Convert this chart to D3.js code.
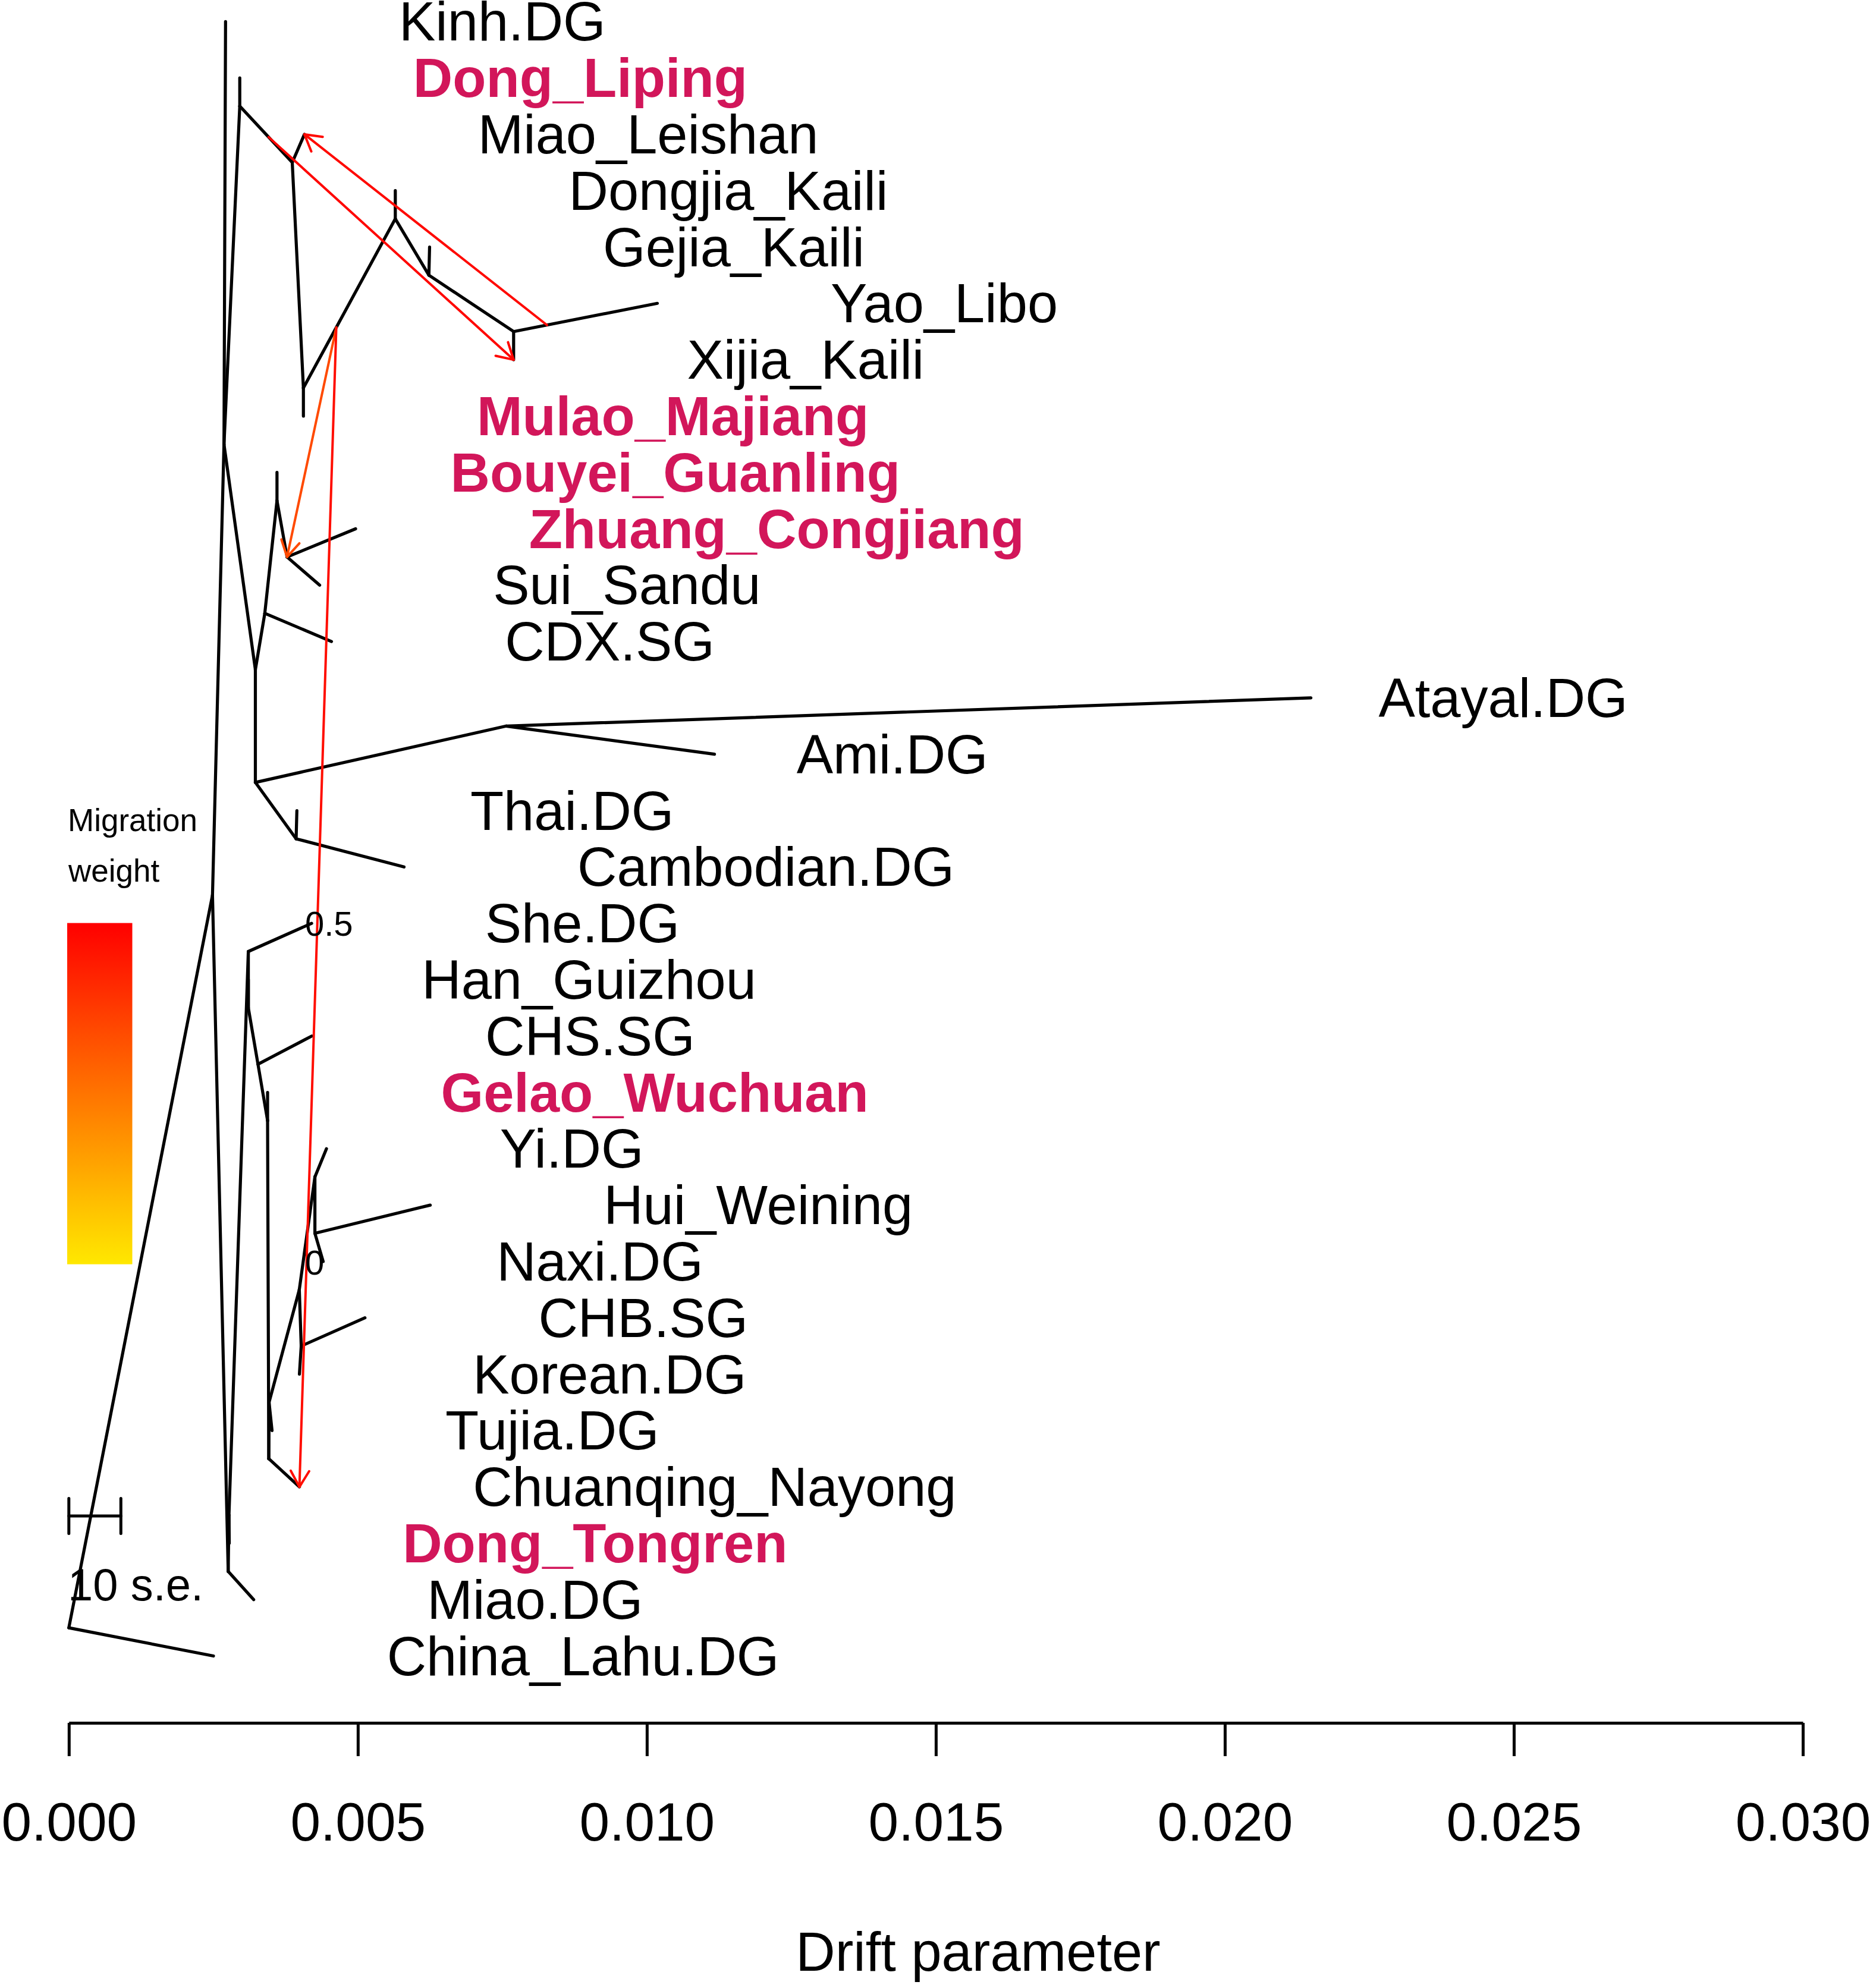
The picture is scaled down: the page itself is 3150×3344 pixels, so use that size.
<!DOCTYPE html>
<html>
<head>
<meta charset="utf-8">
<script src="https://cdn.jsdelivr.net/npm/d3@7"></script>
<style>
  html, body { margin: 0; padding: 0; background: #ffffff; }
  svg { display: block; }
</style>
</head>
<body>
<svg id="chart" width="3150" height="3344"></svg>
<script>
// ---------------- DATA ----------------
// Tips, top to bottom (vertical order index = position in this list)
const tipNames = [
  "Kinh.DG", "Dong_Liping", "Miao_Leishan", "Dongjia_Kaili", "Gejia_Kaili",
  "Yao_Libo", "Xijia_Kaili", "Mulao_Majiang", "Bouyei_Guanling", "Zhuang_Congjiang",
  "Sui_Sandu", "CDX.SG", "Atayal.DG", "Ami.DG", "Thai.DG",
  "Cambodian.DG", "She.DG", "Han_Guizhou", "CHS.SG", "Gelao_Wuchuan",
  "Yi.DG", "Hui_Weining", "Naxi.DG", "CHB.SG", "Korean.DG",
  "Tujia.DG", "Chuanqing_Nayong", "Dong_Tongren", "Miao.DG", "China_Lahu.DG"
];
const highlightedTips = ["Dong_Liping", "Mulao_Majiang", "Bouyei_Guanling",
  "Zhuang_Congjiang", "Gelao_Wuchuan", "Dong_Tongren"];

// Tip drift (x 1e-3), same order as tipNames
const tipDrift = [
  2.711, 2.957, 4.076, 5.648, 6.241,
  10.181, 7.695, 4.058, 3.601, 4.961,
  4.339, 4.544, 21.489, 11.170, 3.945,
  5.799, 4.200, 3.105, 4.203, 3.438,
  4.457, 6.252, 4.400, 5.123, 3.989,
  3.515, 3.989, 2.775, 3.198, 2.502
];

// Internal nodes: id, drift (x 1e-3), vertical position (in tip-index units)
const innerIds   = ["root", "A", "B", "N1", "N2", "N3", "N4", "N5", "N6",
                    "D", "L", "J", "K", "F", "G", "H",
                    "M", "N26", "S", "T", "U", "V", "W", "Z", "X", "Y20", "Y21", "Y23"];
const innerDrift = [0.000, 2.485, 2.684, 2.957, 3.865, 4.058, 5.648, 6.229, 7.695,
                    3.227, 3.390, 3.601, 3.775, 3.227, 7.567, 3.932,
                    2.757, 2.770, 3.105, 3.105, 3.272, 3.438, 3.459, 3.464, 3.987, 4.257, 4.257, 4.020];
const innerY     = [28.5, 15.5, 7.5, 1.5, 2.5, 6.5, 3.5, 4.5, 5.5,
                    11.5, 10.5, 8.5, 9.5, 13.5, 12.5, 14.5,
                    27.5, 26.5, 16.5, 17.5, 18.5, 19.5, 25.5, 24.5, 22.5, 20.5, 21.5, 23.5];

// Tree edges: [parent, child]
const treeEdges = [
  ["root", "China_Lahu.DG"], ["root", "A"], ["A", "B"], ["A", "M"],
  ["B", "Kinh.DG"], ["B", "N1"], ["B", "D"],
  ["N1", "Dong_Liping"], ["N1", "N2"], ["N2", "Miao_Leishan"], ["N2", "N3"],
  ["N3", "Mulao_Majiang"], ["N3", "N4"], ["N4", "Dongjia_Kaili"], ["N4", "N5"],
  ["N5", "Gejia_Kaili"], ["N5", "N6"], ["N6", "Yao_Libo"], ["N6", "Xijia_Kaili"],
  ["D", "L"], ["D", "F"], ["L", "J"], ["L", "CDX.SG"], ["J", "Bouyei_Guanling"], ["J", "K"],
  ["K", "Zhuang_Congjiang"], ["K", "Sui_Sandu"],
  ["F", "G"], ["F", "H"], ["G", "Atayal.DG"], ["G", "Ami.DG"], ["H", "Thai.DG"], ["H", "Cambodian.DG"],
  ["M", "N26"], ["M", "Miao.DG"], ["N26", "Dong_Tongren"], ["N26", "S"],
  ["S", "She.DG"], ["S", "T"], ["T", "Han_Guizhou"], ["T", "U"],
  ["U", "CHS.SG"], ["U", "V"], ["V", "Gelao_Wuchuan"], ["V", "W"],
  ["W", "Z"], ["W", "Chuanqing_Nayong"], ["Z", "X"], ["Z", "Tujia.DG"],
  ["X", "Y20"], ["X", "Y23"], ["Y20", "Yi.DG"], ["Y20", "Y21"],
  ["Y21", "Hui_Weining"], ["Y21", "Naxi.DG"], ["Y23", "CHB.SG"], ["Y23", "Korean.DG"]
];

// Migration edges: source lies on a tree edge at a fraction along it
const migSourceEdge = [["N6", "Yao_Libo"], ["N1", "N2"], ["N3", "N4"], ["N3", "N4"]];
const migSourceFrac = [0.232, 0.55, 0.358, 0.358];
const migTarget     = ["Miao_Leishan", "Xijia_Kaili", "K", "Chuanqing_Nayong"];
const migWeight     = [0.48, 0.49, 0.34, 0.47];

// Axis ticks
const xTicks = [0, 0.005, 0.010, 0.015, 0.020, 0.025, 0.030];
const legendTicks = [0, 0.5];
const seBarLength = 0.0009;   // 10 s.e. in drift units
const labelOffset = 0.003;    // label shift right of tip (drift units)
const labelOffsetOverride = { "Atayal.DG": 0.00117, "Ami.DG": 0.00142 };

// ---------------- LAYOUT ----------------
const FONT = "'Liberation Sans', Arial, Helvetica, sans-serif";
const svg = d3.select("#chart");
svg.append("rect").attr("width", 3150).attr("height", 3344).attr("fill", "#ffffff");

const x = d3.scaleLinear().domain([0, 0.03]).range([115.8, 3032]);
const y = d3.scaleLinear().domain([0, 29]).range([36.3, 2785.5]);
const migColor = d3.scaleLinear().domain([0, 0.5]).range(["#FFE800", "#FF0000"]);

// Build node table
const nodes = new Map();
tipNames.forEach((n, i) => nodes.set(n, { id: n, drift: tipDrift[i] / 1000, y: i, tip: true }));
innerIds.forEach((n, i) => nodes.set(n, { id: n, drift: innerDrift[i] / 1000, y: innerY[i], tip: false }));

// Tree edges
const gTree = svg.append("g")
  .attr("stroke", "#000").attr("stroke-width", 5.2)
  .attr("stroke-linecap", "round").attr("stroke-linejoin", "round").attr("fill", "none");
gTree.selectAll("line").data(treeEdges).join("line")
  .attr("x1", d => x(nodes.get(d[0]).drift))
  .attr("y1", d => y(nodes.get(d[0]).y))
  .attr("x2", d => x(nodes.get(d[1]).drift))
  .attr("y2", d => y(nodes.get(d[1]).y));

// Migration arrows
const migs = migTarget.map((t, i) => {
  const p = nodes.get(migSourceEdge[i][0]), c = nodes.get(migSourceEdge[i][1]);
  const f = migSourceFrac[i];
  const sd = p.drift + (c.drift - p.drift) * f;
  const sy = p.y + (c.y - p.y) * f;
  const tn = nodes.get(t);
  return { x1: x(sd), y1: y(sy), x2: x(tn.drift), y2: y(tn.y), w: migWeight[i] };
});
const headLen = 31, headAng = Math.PI / 6;
const gMig = svg.append("g").attr("fill", "none")
  .attr("stroke-width", 4.0).attr("stroke-linecap", "round").attr("stroke-linejoin", "round");
migs.forEach(m => {
  const col = migColor(m.w);
  const a = Math.atan2(m.y2 - m.y1, m.x2 - m.x1);
  const p1 = [m.x2 - headLen * Math.cos(a - headAng), m.y2 - headLen * Math.sin(a - headAng)];
  const p2 = [m.x2 - headLen * Math.cos(a + headAng), m.y2 - headLen * Math.sin(a + headAng)];
  gMig.append("line").attr("x1", m.x1).attr("y1", m.y1).attr("x2", m.x2).attr("y2", m.y2).attr("stroke", col);
  gMig.append("path").attr("d", `M${p1[0]},${p1[1]}L${m.x2},${m.y2}L${p2[0]},${p2[1]}`).attr("stroke", col);
});

// Tip labels
svg.append("g").selectAll("text").data(tipNames).join("text")
  .attr("x", (d, i) => x(tipDrift[i] / 1000 + (labelOffsetOverride[d] !== undefined ? labelOffsetOverride[d] : labelOffset)))
  .attr("y", (d, i) => y(i) + 32)
  .attr("font-family", FONT)
  .attr("font-size", 92)
  .attr("font-weight", d => highlightedTips.includes(d) ? "bold" : "normal")
  .attr("fill", d => highlightedTips.includes(d) ? "#D2165A" : "#000")
  .text(d => d);

// Bottom axis
const axis = d3.axisBottom(x).tickValues(xTicks).tickFormat(d3.format(".3f"))
  .tickSize(56).tickSizeOuter(0).tickPadding(77);
const gAxis = svg.append("g").attr("transform", "translate(0,2898)").call(axis);
gAxis.select(".domain").attr("stroke", "#000").attr("stroke-width", 5);
gAxis.selectAll(".tick line").attr("stroke", "#000").attr("stroke-width", 5);
gAxis.selectAll(".tick text").attr("font-family", FONT).attr("font-size", 91).attr("fill", "#000");
gAxis.attr("font-family", FONT).attr("font-size", 91);

svg.append("text").attr("x", 1645).attr("y", 3315).attr("text-anchor", "middle")
  .attr("font-family", FONT).attr("font-size", 92).attr("fill", "#000").text("Drift parameter");

// Migration weight legend
const defs = svg.append("defs");
const grad = defs.append("linearGradient").attr("id", "migGrad")
  .attr("x1", 0).attr("y1", 1).attr("x2", 0).attr("y2", 0);
d3.range(0, 1.0001, 0.1).forEach(t => {
  grad.append("stop").attr("offset", t).attr("stop-color", migColor(t * 0.5));
});
const legTop = 1552.6, legBot = 2126.6;
const ly = d3.scaleLinear().domain([0, 0.5]).range([legBot, legTop]);
svg.append("rect").attr("x", 113).attr("y", legTop).attr("width", 109.5).attr("height", legBot - legTop)
  .attr("fill", "url(#migGrad)");
svg.append("text").attr("x", 114).attr("y", 1397.5).attr("font-family", FONT).attr("font-size", 53)
  .attr("fill", "#000").text("Migration");
svg.append("text").attr("x", 115).attr("y", 1482.5).attr("font-family", FONT).attr("font-size", 53)
  .attr("fill", "#000").text("weight");
svg.append("g").selectAll("text").data(legendTicks).join("text")
  .attr("x", 513).attr("y", d => ly(d) + (d === 0 ? 17 : 21))
  .attr("font-family", FONT).attr("font-size", 58).attr("fill", "#000")
  .text(d => d === 0 ? "0" : String(d));

// 10 s.e. scale bar
const sbY = 2550, sbX0 = x(0), sbX1 = x(seBarLength);
const gSb = svg.append("g").attr("stroke", "#000").attr("stroke-width", 5).attr("stroke-linecap", "round");
gSb.append("line").attr("x1", sbX0).attr("x2", sbX1).attr("y1", sbY).attr("y2", sbY);
gSb.append("line").attr("x1", sbX0).attr("x2", sbX0).attr("y1", sbY - 29.5).attr("y2", sbY + 29.5);
gSb.append("line").attr("x1", sbX1).attr("x2", sbX1).attr("y1", sbY - 29.5).attr("y2", sbY + 29.5);
svg.append("text").attr("x", 114).attr("y", 2692).attr("font-family", FONT).attr("font-size", 76)
  .attr("fill", "#000").text("10 s.e.");
</script>
</body>
</html>
